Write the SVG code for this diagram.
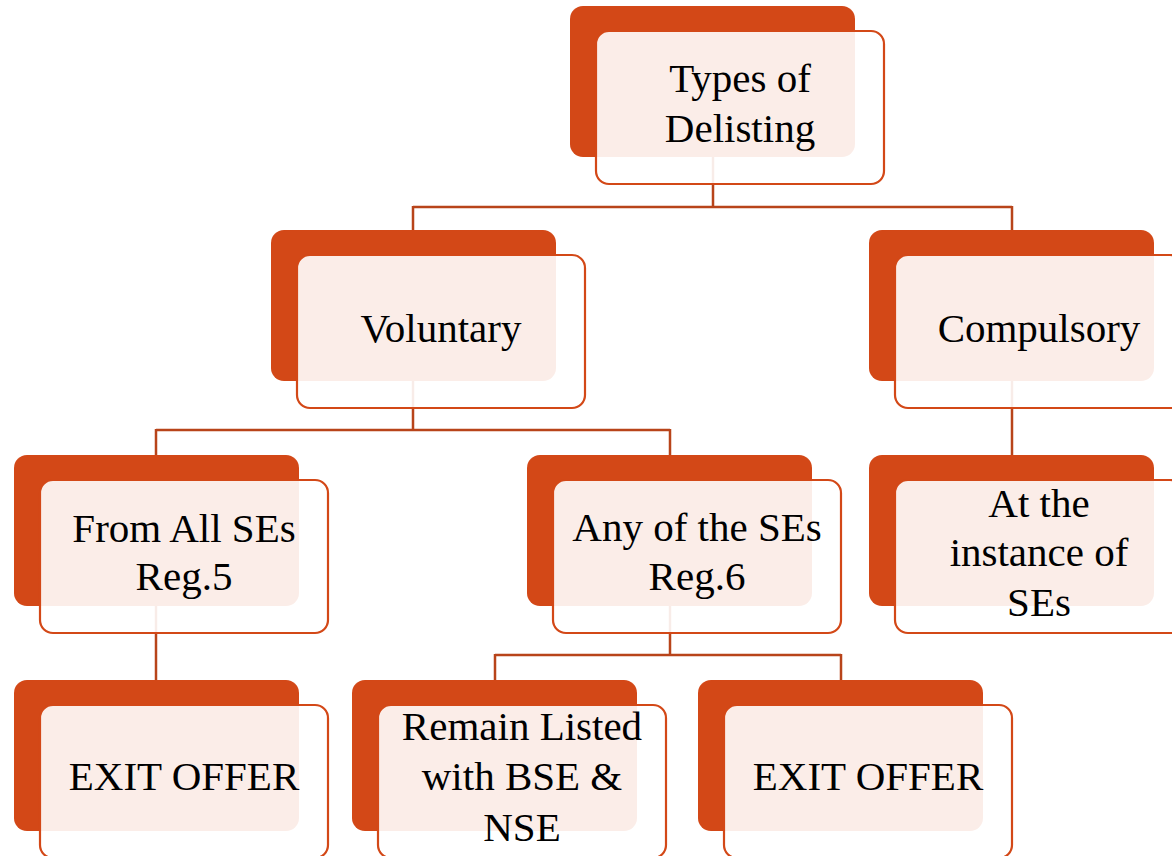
<svg xmlns="http://www.w3.org/2000/svg" width="1172" height="856" viewBox="0 0 1172 856">
<style>
.bk{fill:#D34817;}
.fr{fill:#FFFFFF;fill-opacity:0.9;stroke:#D34817;stroke-width:2.2;}
.t{font-family:"Liberation Serif","Times New Roman",serif;font-size:41px;fill:#000;text-anchor:middle;}
.c{fill:none;stroke:#B8441A;stroke-width:2.5;}
</style>
<rect width="1172" height="856" fill="#FFFFFF"/>
<g id="connectors">
<path class="c" d="M713,157 V207 M413,207 H1012 M413,206 V230 M1012,206 V230"/>
<path class="c" d="M413,381 V430 M156,430 H670 M156,429 V455 M670,429 V455"/>
<path class="c" d="M1012,381 V455"/>
<path class="c" d="M156,606 V680"/>
<path class="c" d="M670,606 V655 M495,655 H841 M495,654 V680 M841,654 V680"/>
</g>
<g id="n-types">
<rect class="bk" x="570" y="6" width="285" height="151" rx="13"/>
<rect class="fr" x="596" y="31" width="288" height="153" rx="13"/>
<text class="t" x="740" y="92">Types of</text>
<text class="t" x="740" y="142">Delisting</text>
</g>
<g id="n-voluntary">
<rect class="bk" x="271" y="230" width="285" height="151" rx="13"/>
<rect class="fr" x="297" y="255" width="288" height="153" rx="13"/>
<text class="t" x="441" y="342">Voluntary</text>
</g>
<g id="n-compulsory">
<rect class="bk" x="869" y="230" width="285" height="151" rx="13"/>
<rect class="fr" x="895" y="255" width="288" height="153" rx="13"/>
<text class="t" x="1039" y="342">Compulsory</text>
</g>
<g id="n-allses">
<rect class="bk" x="14" y="455" width="285" height="151" rx="13"/>
<rect class="fr" x="40" y="480" width="288" height="153" rx="13"/>
<text class="t" x="184" y="542">From All SEs</text>
<text class="t" x="184" y="590">Reg.5</text>
</g>
<g id="n-anyses">
<rect class="bk" x="527" y="455" width="285" height="151" rx="13"/>
<rect class="fr" x="553" y="480" width="288" height="153" rx="13"/>
<text class="t" x="697" y="541">Any of the SEs</text>
<text class="t" x="697" y="590">Reg.6</text>
</g>
<g id="n-instance">
<rect class="bk" x="869" y="455" width="285" height="151" rx="13"/>
<rect class="fr" x="895" y="480" width="288" height="153" rx="13"/>
<text class="t" x="1039" y="517">At the</text>
<text class="t" x="1039" y="566">instance of</text>
<text class="t" x="1039" y="616">SEs</text>
</g>
<g id="n-exit1">
<rect class="bk" x="14" y="680" width="285" height="151" rx="13"/>
<rect class="fr" x="40" y="705" width="288" height="153" rx="13"/>
<text class="t" x="184" y="790">EXIT OFFER</text>
</g>
<g id="n-remain">
<rect class="bk" x="352" y="680" width="285" height="151" rx="13"/>
<rect class="fr" x="378" y="705" width="288" height="153" rx="13"/>
<text class="t" x="522" y="740">Remain Listed</text>
<text class="t" x="522" y="790">with BSE &amp;</text>
<text class="t" x="522" y="841">NSE</text>
</g>
<g id="n-exit2">
<rect class="bk" x="698" y="680" width="285" height="151" rx="13"/>
<rect class="fr" x="724" y="705" width="288" height="153" rx="13"/>
<text class="t" x="868" y="790">EXIT OFFER</text>
</g>
</svg>
